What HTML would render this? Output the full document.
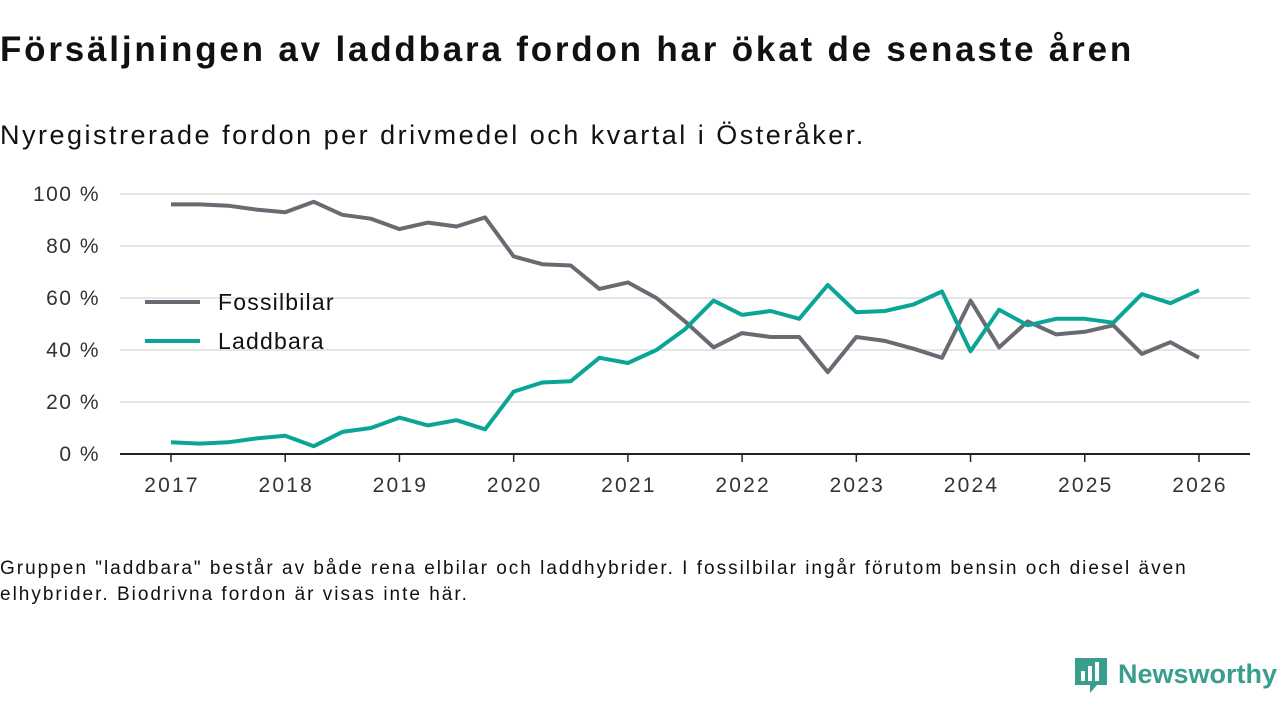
<!DOCTYPE html>
<html><head><meta charset="utf-8">
<style>
body{margin:0;width:1280px;height:720px;background:#fff;overflow:hidden;font-family:"Liberation Sans",sans-serif;color:#111;}
#title{position:absolute;left:0;top:30px;font-size:35px;font-weight:bold;letter-spacing:2.8px;}
#sub{position:absolute;left:0;top:120px;font-size:27px;letter-spacing:2.5px;}
#foot{position:absolute;left:0;top:556px;font-size:19px;line-height:26px;width:1210px;letter-spacing:2px;}
#chart{position:absolute;left:0;top:0;}
#logo{position:absolute;left:1073px;top:656px;}
</style></head><body>
<div id="title">Försäljningen av laddbara fordon har ökat de senaste åren</div>
<div id="sub">Nyregistrerade fordon per drivmedel och kvartal i Österåker.</div>
<svg id="chart" width="1280" height="540"></svg>
<div id="foot">Gruppen "laddbara" består av både rena elbilar och laddhybrider. I fossilbilar ingår förutom bensin och diesel även elhybrider. Biodrivna fordon är visas inte här.</div>
<svg id="logo" width="210" height="40">
<path d="M2 2h32v27h-10l-7 8v-8H2z" fill="#3a9e8f"/>
<rect x="8" y="15" width="4" height="10" fill="#fff"/><rect x="15" y="10" width="4" height="15" fill="#fff"/><rect x="22" y="6" width="4" height="19" fill="#fff"/>
<text x="45" y="27" font-size="27" font-weight="bold" fill="#3a9e8f" font-family="Liberation Sans, sans-serif">Newsworthy</text>
</svg>
<script>
const years=[2017,2018,2019,2020,2021,2022,2023,2024,2025,2026];
const yTicks=[0,20,40,60,80,100];
const fossil=[96,96,95.5,94,93,97,92,90.5,86.5,89,87.5,91,76,73,72.5,63.5,66,60,51,41,46.5,45,45,31.5,45,43.5,40.5,37,59,41,51,46,47,49.5,38.5,43,37];
const laddbara=[4.5,4,4.5,6,7,3,8.5,10,14,11,13,9.5,24,27.5,28,37,35,40,48,59,53.5,55,52,65,54.5,55,57.5,62.5,39.5,55.5,49.5,52,52,50.5,61.5,58,63];
const svg=document.getElementById('chart');const NS='http://www.w3.org/2000/svg';
const X=t=>171+(t-2017)*114.22;const Y=v=>454-v*2.6;
function mk(tag,a){const e=document.createElementNS(NS,tag);for(const k in a)e.setAttribute(k,a[k]);svg.appendChild(e);return e;}
yTicks.forEach(v=>{
 const l=mk('line',{x1:120,x2:1250,y1:Y(v),y2:Y(v),stroke:v?'#ddd':'#222','stroke-width':v?1.5:2});
 
 
 const t=mk('text',{x:100,y:Y(v)+7,'text-anchor':'end','font-size':21,'letter-spacing':1.5,fill:'#333'});t.textContent=v+' %';
 
 
});
years.forEach(yr=>{
 const l=mk('line',{x1:X(yr),x2:X(yr),y1:454,y2:462,stroke:'#222','stroke-width':1.5});
 
 
 const t=mk('text',{x:X(yr)+1,y:492,'text-anchor':'middle','font-size':21,'letter-spacing':2.2,fill:'#333'});t.textContent=yr;
 
 
});
function line(d,c,name){const p=mk('polyline',{points:d.map((v,i)=>X(2017+i/4)+','+Y(v)).join(' '),fill:'none',stroke:c,'stroke-width':4,'stroke-linejoin':'round'});
 
 }
line(fossil,'#6b6a72','fossil-line');line(laddbara,'#0aa596','laddbara-line');
[['Fossilbilar','#6b6a72',302],['Laddbara','#0aa596',341]].forEach(([n,c,y])=>{
 const l=mk('line',{x1:145,x2:200,y1:y,y2:y,stroke:c,'stroke-width':4});
 
 
 const t=mk('text',{x:218,y:y+8,'font-size':23,'letter-spacing':1.2,fill:'#111'});t.textContent=n;
 
 
});
</script>
</body></html>
